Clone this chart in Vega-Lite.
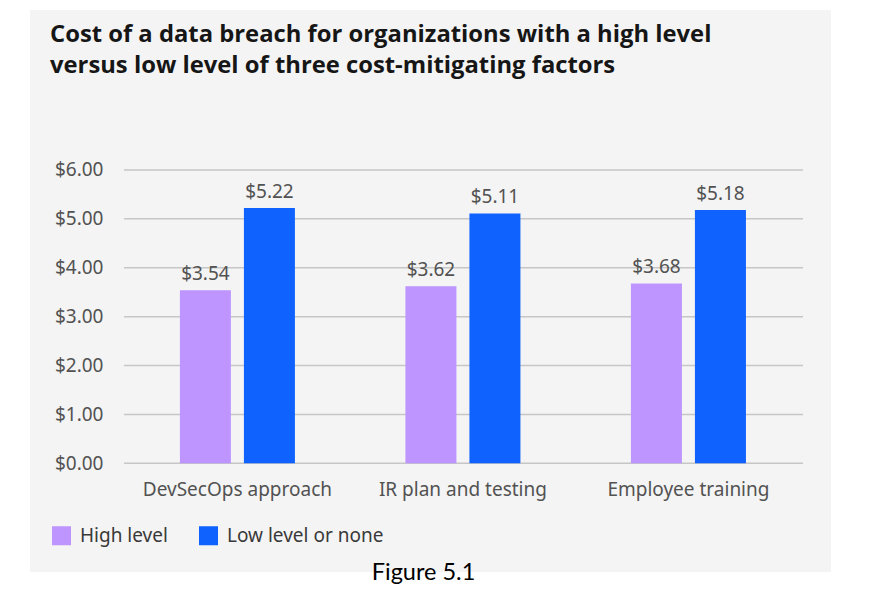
{
  "$schema": "https://vega.github.io/schema/vega-lite/v6.json",
  "width": 801,
  "height": 562,
  "autosize": {"type": "none"},
  "padding": {"left": 30, "top": 10, "right": 44, "bottom": 34},
  "background": "#ffffff",
  "config": {"view": {"fill": "#f4f4f4", "stroke": null}, "font": "Noto Sans"},
  "title": {
    "text": ["Cost of a data breach for organizations with a high level", "versus low level of three cost-mitigating factors"],
    "anchor": "start",
    "frame": "group",
    "orient": "top",
    "offset": -68,
    "dx": 20,
    "baseline": "top",
    "fontSize": 23.8,
    "font": "Open Sans",
    "fontWeight": 700,
    "color": "#161616",
    "lineHeight": 31
  },
  "datasets": {
    "bars": [
      {"factor": "DevSecOps approach", "level": "High level", "cost": 3.54},
      {"factor": "DevSecOps approach", "level": "Low level or none", "cost": 5.22},
      {"factor": "IR plan and testing", "level": "High level", "cost": 3.62},
      {"factor": "IR plan and testing", "level": "Low level or none", "cost": 5.11},
      {"factor": "Employee training", "level": "High level", "cost": 3.68},
      {"factor": "Employee training", "level": "Low level or none", "cost": 5.18}
    ],
    "grid": [{"v": 0}, {"v": 1}, {"v": 2}, {"v": 3}, {"v": 4}, {"v": 5}, {"v": 6}]
  },
  "layer": [
    {
      "data": {"name": "grid"},
      "mark": {"type": "rule", "color": "#c6c6c6", "strokeWidth": 1.5},
      "encoding": {
        "y": {"field": "v", "type": "quantitative", "scale": {"domain": [-2.224, 9.273], "nice": false, "zero": false},
              "axis": {"values": [0, 1, 2, 3, 4, 5, 6], "format": "$.2f", "domain": false, "ticks": false, "grid": false,
                       "offset": -73, "labelPadding": 0, "labelFontSize": 19, "labelColor": "#525252", "labelFont": "Noto Sans", "title": null}},
        "x": {"datum": "DevSecOps approach", "type": "nominal", "bandPosition": -0.487,
              "scale": {"domain": ["DevSecOps approach", "IR plan and testing", "Employee training"], "paddingInner": 0.49, "paddingOuter": 0.521, "align": 0.638},
              "axis": {"orient": "bottom", "offset": -109, "domain": false, "ticks": false, "grid": false, "labelAngle": 0,
                       "labelPadding": 17, "labelFontSize": 19, "labelColor": "#525252", "labelFont": "Noto Sans", "labelLimit": 400,
                       "title": "Figure 5.1", "titleFont": "Lato", "titleFontSize": 23.5, "titleFontWeight": "normal",
                       "titleColor": "#000000", "titleY": 109, "titleX": 393, "titleBaseline": "middle"}},
        "x2": {"datum": "Employee training", "bandPosition": 1.496}
      }
    },
    {
      "data": {"name": "bars"},
      "mark": {"type": "bar"},
      "encoding": {
        "x": {"field": "factor", "type": "nominal"},
        "xOffset": {"field": "level", "type": "nominal", "scale": {"paddingInner": 0.203, "paddingOuter": 0}},
        "y": {"field": "cost", "type": "quantitative"},
        "y2": {"datum": 0},
        "color": {"field": "level", "type": "nominal",
                  "scale": {"domain": ["High level", "Low level or none"], "range": ["#be95ff", "#0f62fe"]},
                  "legend": {"orient": "none", "legendX": 22, "legendY": 516, "direction": "horizontal", "title": null,
                             "symbolType": "square", "symbolSize": 361, "symbolStrokeWidth": 0, "labelFontSize": 19,
                             "labelColor": "#393939", "labelFont": "Noto Sans", "labelOffset": 9, "columnPadding": 31, "padding": 0}}
      }
    },
    {
      "data": {"name": "bars"},
      "mark": {"type": "text", "dy": -6, "baseline": "bottom", "fontSize": 19, "color": "#525252", "font": "Noto Sans"},
      "encoding": {
        "x": {"field": "factor", "type": "nominal"},
        "xOffset": {"field": "level", "type": "nominal"},
        "y": {"field": "cost", "type": "quantitative"},
        "text": {"field": "cost", "type": "quantitative", "format": "$.2f"}
      }
    }
  ]
}
